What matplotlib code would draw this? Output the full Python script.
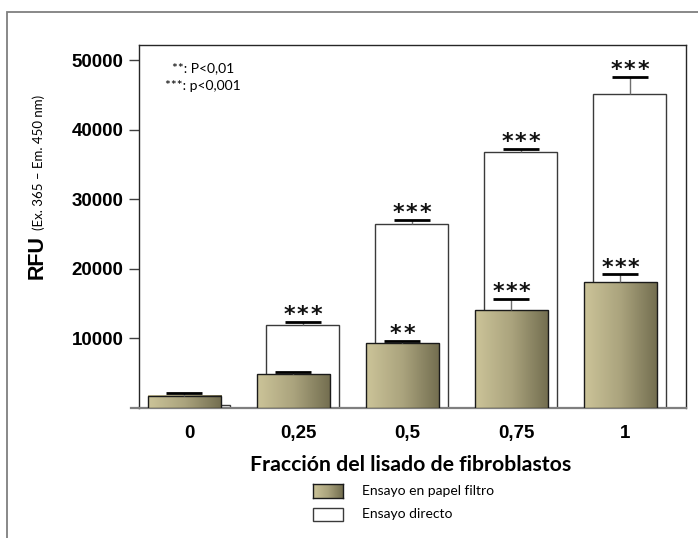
import numpy as np
import matplotlib
matplotlib.use('Agg')
import matplotlib.pyplot as plt
from matplotlib.colors import LinearSegmentedColormap
from matplotlib.patches import Rectangle

# ---------------- data ----------------
categories = ["0", "0,25", "0,5", "0,75", "1"]
papel = [1760, 4850, 9350, 14050, 18080]          # Ensayo en papel filtro
papel_err = [430, 290, 340, 1630, 1150]
directo = [390, 11990, 26430, 36880, 45140]       # Ensayo directo
directo_err = [0, 380, 660, 430, 2530]
papel_sig = ["", "", "**", "***", "***"]
directo_sig = ["", "***", "***", "***", "***"]
yticks = [10000, 20000, 30000, 40000, 50000]
ytick_labels = ["10000", "20000", "30000", "40000", "50000"]
legend_labels = ["Ensayo en papel filtro", "Ensayo directo"]
xlabel = "Fracción del lisado de fibroblastos"
note_lines = ["**: P<0,01", "***: p<0,001"]

# ---------------- figure ----------------
W, H = 698, 538
fig = plt.figure(figsize=(W / 100, H / 100), dpi=100)
ax = fig.add_axes([139 / W, 1 - 408 / H, (686 - 139) / W, (408 - 44.5) / H])

CAL = ['Lato', 'DejaVu Sans']
ARI = ['Liberation Sans', 'DejaVu Sans']

x = np.arange(len(categories))
bw = 0.67
off = 0.043
cmap = LinearSegmentedColormap.from_list('g', ['#CCC499', '#AAA37D', '#726D4F'])
grad = np.linspace(0, 1, 256).reshape(1, -1)

# white bars (behind)
wb = ax.bar(x + off, directo, width=bw, color='white', edgecolor='#3a3a3a',
            linewidth=1, zorder=2)
# gradient bars (front)
pb = ax.bar(x - off, papel, width=bw, color='none', edgecolor='#1a1a1a',
            linewidth=1, zorder=4)
for r in pb:
    ax.imshow(grad, cmap=cmap,
              extent=[r.get_x(), r.get_x() + r.get_width(), 0, r.get_height()],
              aspect='auto', zorder=3.5, interpolation='bicubic')

STAR_STEP = 9.6  # points between asterisks


def draw_err(xs, vals, errs, sigs, z):
    vals = np.asarray(vals, float)
    errs = np.asarray(errs, float)
    ax.errorbar(xs, vals, yerr=[np.zeros_like(errs), errs], fmt='none',
                ecolor='#6f6f6f', elinewidth=1, capsize=0, zorder=z)
    tops = vals + errs
    ax.plot(xs, tops, ls='none', marker='_', markersize=26.6, mew=2,
            color='black', zorder=z)
    for xi, t, s in zip(xs, tops, sigs):
        n = len(s)
        for k in range(n):
            dx = (k - (n - 1) / 2) * STAR_STEP
            ax.annotate('*', (xi, t), xytext=(dx, 0.5),
                        textcoords='offset points', ha='center',
                        va='baseline', fontsize=16, fontweight='bold',
                        family='DejaVu Sans', color='#111111',
                        zorder=z + 0.1)


draw_err(x + off, directo, directo_err, directo_sig, 2.5)
draw_err(x - off, papel, papel_err, papel_sig, 4.5)

ax.set_xlim(-0.459, 4.56)
ax.set_ylim(0, 52300)
ax.set_yticks(yticks, ytick_labels)
ax.set_xticks(x, categories)
ax.tick_params(axis='y', direction='out', length=7, width=1, pad=4,
               color='#404040')
ax.tick_params(axis='x', length=0, pad=12)
for lab in ax.get_yticklabels() + ax.get_xticklabels():
    lab.set_family(ARI)
    lab.set_fontweight('bold')
    lab.set_fontsize(13.5)

for s in ['top', 'right', 'left']:
    ax.spines[s].set_color('#262626')
    ax.spines[s].set_linewidth(1)
ax.spines['bottom'].set_color('#7f7f7f')
ax.spines['bottom'].set_linewidth(1.6)
ax.plot([-0.014, 0], [0, 0], transform=ax.transAxes, clip_on=False,
        color='#7f7f7f', lw=1.6)

# y label
fig.text(43 / W, 1 - 279 / H, 'RFU', rotation=90, rotation_mode='anchor',
         ha='left', va='baseline', fontsize=15.5, fontweight='bold', family=ARI)
fig.text(43 / W, 1 - 230 / H, '(Ex. 365 \u2013 Em. 450 nm)', rotation=90,
         rotation_mode='anchor', ha='left', va='baseline', fontsize=9.5,
         family=CAL)

# significance notes
fig.text(203 / W, 1 - 68 / H, note_lines[0], ha='center', va='center',
         fontsize=10, family=CAL)
fig.text(203 / W, 1 - 86 / H, note_lines[1], ha='center', va='center',
         fontsize=10, family=CAL)

# x label
fig.text(411 / W, 1 - 465 / H, xlabel, ha='center', va='center',
         fontsize=15.3, fontweight='bold', family=CAL)

# legend
lax = fig.add_axes([313 / W, 1 - 498 / H, 30 / W, 14 / H])
lax.imshow(grad, cmap=cmap, aspect='auto', interpolation='bicubic')
lax.set_xticks([])
lax.set_yticks([])
for s in lax.spines.values():
    s.set_color('#1a1a1a')
    s.set_linewidth(1)
fig.patches.append(Rectangle((313 / W, 1 - 521 / H), 30 / W, 13 / H,
                             facecolor='white', edgecolor='#3a3a3a', lw=1,
                             transform=fig.transFigure, figure=fig))
fig.text(362 / W, 1 - 491 / H, legend_labels[0], ha='left', va='center',
         fontsize=10, family=CAL)
fig.text(362 / W, 1 - 514 / H, legend_labels[1], ha='left', va='center',
         fontsize=10, family=CAL)

# outer frame
fig.patches.append(Rectangle((7 / W, -0.1), 1.2, 1 - 12 / H + 0.1, fill=False,
                             edgecolor='#7f7f7f', lw=1.3,
                             transform=fig.transFigure, figure=fig))

fig.savefig('out.png', dpi=100)
